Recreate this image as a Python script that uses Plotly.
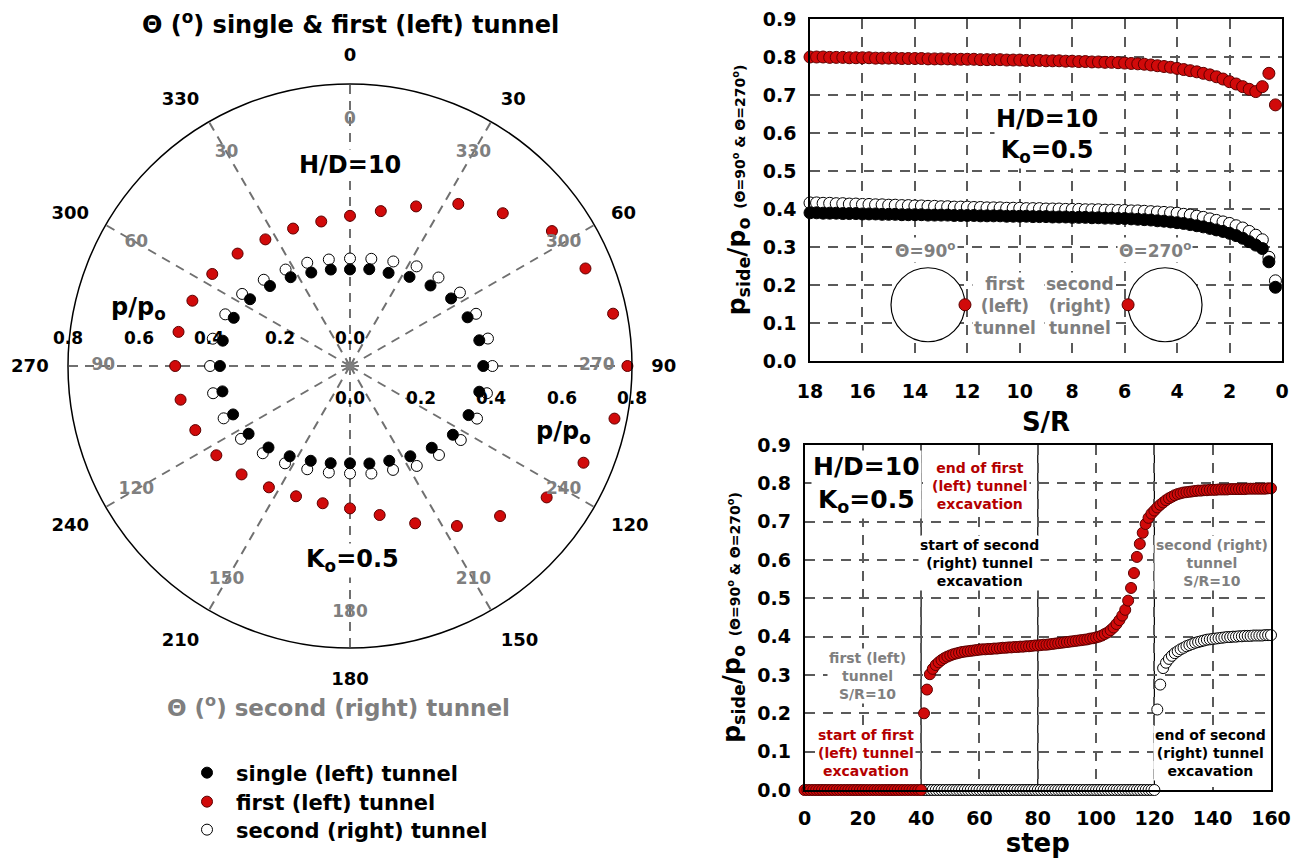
import plotly.graph_objects as go

W, H = 1296, 858
FONT = "DejaVu Sans"
RED = "#d10a0a"
RED_EDGE = "#5c0000"
DARKRED = "#b40000"
GRAY = "#7f7f7f"

# ---------------- polar chart data (p/po around the tunnel) ----------------
THETA_DEG = [0.0, 11.25, 22.5, 33.75, 45.0, 56.25, 67.5, 78.75, 90.0, 101.25, 112.5,
             123.75, 135.0, 146.25, 157.5, 168.75, 180.0, 191.25, 202.5, 213.75, 225.0,
             236.25, 247.5, 258.75, 270.0, 281.25, 292.5, 303.75, 315.0, 326.25, 337.5, 348.75]
P_SINGLE = [0.274, 0.280, 0.286, 0.304, 0.323, 0.345, 0.361, 0.374, 0.378, 0.374, 0.364,
            0.351, 0.328, 0.308, 0.291, 0.282, 0.276, 0.281, 0.291, 0.308, 0.327,
            0.346, 0.359, 0.369, 0.369, 0.368, 0.357, 0.341, 0.321, 0.303, 0.287, 0.279]
P_FIRST = [0.426, 0.448, 0.490, 0.553, 0.613, 0.689, 0.723, 0.761, 0.787, 0.765, 0.717,
           0.671, 0.602, 0.546, 0.483, 0.431, 0.404, 0.397, 0.400, 0.414, 0.435,
           0.456, 0.475, 0.490, 0.496, 0.496, 0.484, 0.470, 0.451, 0.432, 0.422, 0.418]
P_SECOND = [0.305, 0.310, 0.321, 0.340, 0.355, 0.375, 0.387, 0.399, 0.404, 0.396, 0.390,
            0.378, 0.357, 0.341, 0.319, 0.311, 0.305, 0.308, 0.317, 0.332, 0.350,
            0.372, 0.388, 0.396, 0.397, 0.397, 0.383, 0.368, 0.346, 0.329, 0.317, 0.308]
ANGLE_TICKS = [0, 30, 60, 90, 120, 150, 180, 210, 240, 270, 300, 330]
SECOND_ANGLE_LABELS = [0, 330, 300, 270, 240, 210, 180, 150, 120, 90, 60, 30]
RADIAL_TICKS = [0.0, 0.2, 0.4, 0.6, 0.8]

# ---------------- top-right: p_side/po vs S/R ----------------
SR = [18.0, 17.75, 17.5, 17.25, 17.0, 16.75, 16.5, 16.25, 16.0, 15.75,
      15.5, 15.25, 15.0, 14.75, 14.5, 14.25, 14.0, 13.75, 13.5, 13.25,
      13.0, 12.75, 12.5, 12.25, 12.0, 11.75, 11.5, 11.25, 11.0, 10.75,
      10.5, 10.25, 10.0, 9.75, 9.5, 9.25, 9.0, 8.75, 8.5, 8.25,
      8.0, 7.75, 7.5, 7.25, 7.0, 6.75, 6.5, 6.25, 6.0, 5.75,
      5.5, 5.25, 5.0, 4.75, 4.5, 4.25, 4.0, 3.75, 3.5, 3.25,
      3.0, 2.75, 2.5, 2.25, 2.0, 1.75, 1.5, 1.25, 1.0,
      0.75, 0.5, 0.25]
SIDE_FIRST = [0.800, 0.800, 0.800, 0.799, 0.799, 0.799, 0.798, 0.798, 0.798, 0.798,
              0.797, 0.797, 0.797, 0.797, 0.796, 0.796, 0.796, 0.796, 0.795, 0.795,
              0.795, 0.795, 0.794, 0.794, 0.794, 0.794, 0.793, 0.793, 0.793, 0.793,
              0.792, 0.792, 0.792, 0.791, 0.791, 0.791, 0.790, 0.790, 0.790, 0.789,
              0.789, 0.788, 0.788, 0.787, 0.787, 0.786, 0.786, 0.785, 0.784, 0.783,
              0.782, 0.781, 0.779, 0.777, 0.775, 0.773, 0.770, 0.767, 0.764, 0.761,
              0.757, 0.753, 0.748, 0.742, 0.735, 0.729, 0.722, 0.715, 0.709,
              0.722, 0.757, 0.674]
SIDE_SINGLE = [0.390, 0.390, 0.389, 0.389, 0.389, 0.388, 0.388, 0.388, 0.387, 0.387,
               0.387, 0.386, 0.386, 0.386, 0.385, 0.385, 0.385, 0.385, 0.384, 0.384,
               0.384, 0.384, 0.383, 0.383, 0.383, 0.383, 0.382, 0.382, 0.382, 0.382,
               0.381, 0.381, 0.381, 0.381, 0.380, 0.380, 0.380, 0.379, 0.379, 0.379,
               0.378, 0.378, 0.378, 0.377, 0.377, 0.376, 0.376, 0.375, 0.375, 0.374,
               0.373, 0.372, 0.371, 0.369, 0.368, 0.366, 0.364, 0.362, 0.359, 0.356,
               0.353, 0.349, 0.345, 0.341, 0.336, 0.330, 0.323, 0.314, 0.305,
               0.296, 0.261, 0.194]
SIDE_SECOND = [0.416, 0.416, 0.415, 0.415, 0.414, 0.414, 0.413, 0.413, 0.412, 0.412,
               0.411, 0.411, 0.410, 0.410, 0.409, 0.409, 0.408, 0.408, 0.407, 0.407,
               0.406, 0.406, 0.405, 0.405, 0.405, 0.404, 0.404, 0.403, 0.403, 0.403,
               0.402, 0.402, 0.402, 0.401, 0.401, 0.401, 0.400, 0.400, 0.400, 0.399,
               0.399, 0.399, 0.398, 0.398, 0.398, 0.397, 0.397, 0.396, 0.396, 0.395,
               0.395, 0.394, 0.393, 0.392, 0.391, 0.390, 0.389, 0.386, 0.384, 0.381,
               0.378, 0.374, 0.370, 0.366, 0.362, 0.356, 0.350, 0.341, 0.331,
               0.319, 0.273, 0.211]

# ---------------- bottom-right: p_side/po vs excavation step ----------------
STEP_FIRST = list(range(0, 161))
STEP_SECOND = list(range(41, 161))
STEP_P_FIRST = [
    0.0, 0.0, 0.0, 0.0, 0.0, 0.0, 0.0, 0.0, 0.0, 0.0,
    0.0, 0.0, 0.0, 0.0, 0.0, 0.0, 0.0, 0.0, 0.0, 0.0,
    0.0, 0.0, 0.0, 0.0, 0.0, 0.0, 0.0, 0.0, 0.0, 0.0,
    0.0, 0.0, 0.0, 0.0, 0.0, 0.0, 0.0, 0.0, 0.0, 0.0,
    0.0,
    0.200, 0.262, 0.302, 0.316, 0.326, 0.333, 0.339, 0.344, 0.348, 0.351,
    0.354, 0.356, 0.358, 0.360, 0.361, 0.362, 0.363, 0.364, 0.365, 0.366,
    0.367, 0.367, 0.368, 0.368, 0.369, 0.369, 0.370, 0.371, 0.371, 0.372,
    0.372, 0.373, 0.373, 0.374, 0.374, 0.375, 0.375, 0.376, 0.377, 0.377,
    0.378, 0.379, 0.379, 0.380, 0.381, 0.382, 0.383, 0.384, 0.385, 0.386,
    0.387, 0.388, 0.389, 0.390, 0.391, 0.392, 0.393, 0.395, 0.396, 0.398,
    0.400, 0.403, 0.407, 0.411, 0.417, 0.424, 0.433, 0.443, 0.455, 0.470,
    0.494, 0.527, 0.566, 0.608, 0.642, 0.671, 0.694, 0.710, 0.721, 0.729,
    0.737, 0.744, 0.750, 0.756, 0.761, 0.765, 0.769, 0.772, 0.774, 0.776,
    0.777, 0.778, 0.779, 0.780, 0.781, 0.781, 0.782, 0.782, 0.783, 0.783,
    0.783, 0.784, 0.784, 0.784, 0.784, 0.785, 0.785, 0.785, 0.785, 0.785,
    0.785, 0.786, 0.786, 0.786, 0.786, 0.786, 0.786, 0.786, 0.787, 0.787]
STEP_P_SECOND = [
    0.0, 0.0, 0.0, 0.0, 0.0, 0.0, 0.0, 0.0, 0.0, 0.0,
    0.0, 0.0, 0.0, 0.0, 0.0, 0.0, 0.0, 0.0, 0.0, 0.0,
    0.0, 0.0, 0.0, 0.0, 0.0, 0.0, 0.0, 0.0, 0.0, 0.0,
    0.0, 0.0, 0.0, 0.0, 0.0, 0.0, 0.0, 0.0, 0.0, 0.0,
    0.0, 0.0, 0.0, 0.0, 0.0, 0.0, 0.0, 0.0, 0.0, 0.0,
    0.0, 0.0, 0.0, 0.0, 0.0, 0.0, 0.0, 0.0, 0.0, 0.0,
    0.0, 0.0, 0.0, 0.0, 0.0, 0.0, 0.0, 0.0, 0.0, 0.0,
    0.0, 0.0, 0.0, 0.0, 0.0, 0.0, 0.0, 0.0, 0.0, 0.0,
    0.210, 0.275, 0.318, 0.332, 0.342, 0.350, 0.357, 0.362, 0.367, 0.371,
    0.375, 0.378, 0.381, 0.384, 0.386, 0.388, 0.390, 0.392, 0.393, 0.394,
    0.395, 0.396, 0.397, 0.398, 0.399, 0.399, 0.400, 0.400, 0.401, 0.401,
    0.402, 0.402, 0.402, 0.403, 0.403, 0.403, 0.403, 0.404, 0.404, 0.404]
STAGE_LINES = [40, 80, 120]

# ---------------- layout geometry (pixels) ----------------
CX, CY, R = 350, 366, 282          # polar centre / radius
R_UNIT = R / 0.8                    # px per unit of p/po
GRAY_R = 0.70                       # radius of the gray (second tunnel) angle labels

fig = go.Figure()

def mk(fill, edge, size=11, lw=1):
    return dict(color=fill, size=size, line=dict(color=edge, width=lw))

# ---- polar traces
fig.add_trace(go.Scatterpolar(r=P_SECOND, theta=THETA_DEG, mode="markers", name="second (right) tunnel",
                              marker=mk("white", "black"), legend="legend3", subplot="polar"))
fig.add_trace(go.Scatterpolar(r=P_SINGLE, theta=THETA_DEG, mode="markers", name="single (left) tunnel",
                              marker=mk("black", "black"), legend="legend", subplot="polar"))
fig.add_trace(go.Scatterpolar(r=P_FIRST, theta=THETA_DEG, mode="markers", name="first (left) tunnel",
                              marker=mk(RED, RED_EDGE), legend="legend2", subplot="polar"))
fig.add_trace(go.Scatterpolar(r=[GRAY_R] * len(ANGLE_TICKS), theta=ANGLE_TICKS, mode="text",
                              text=[str(v) for v in SECOND_ANGLE_LABELS], showlegend=False,
                              textfont=dict(family=FONT, size=17, color=GRAY, weight="bold"),
                              hoverinfo="skip", subplot="polar"))
fig.add_trace(go.Scatterpolar(r=[0], theta=[0], mode="markers", showlegend=False, subplot="polar",
                              marker=dict(symbol="asterisk-open", size=10, color=GRAY,
                                          line=dict(color=GRAY, width=2))))

# ---- top-right traces
fig.add_trace(go.Scatter(x=SR, y=SIDE_SECOND, mode="markers", marker=mk("white", "black", size=12),
                         showlegend=False, cliponaxis=False, xaxis="x", yaxis="y"))
fig.add_trace(go.Scatter(x=SR, y=SIDE_SINGLE, mode="markers", marker=mk("black", "black", size=12),
                         showlegend=False, cliponaxis=False, xaxis="x", yaxis="y"))
fig.add_trace(go.Scatter(x=SR, y=SIDE_FIRST, mode="markers", marker=mk(RED, RED_EDGE, size=12),
                         showlegend=False, cliponaxis=False, xaxis="x", yaxis="y"))

# tunnel schematic (illustration): two tunnel outlines, each with its measuring point
TUNNEL_CX = [13.5, 4.46]
TUNNEL_CY = 0.148
TUNNEL_HALF_WIDTH = 1.41
fig.add_trace(go.Scatter(x=TUNNEL_CX, y=[TUNNEL_CY, TUNNEL_CY], mode="markers", showlegend=False,
                         marker=dict(color="white", size=74, line=dict(color="black", width=1.2)),
                         hoverinfo="skip", xaxis="x", yaxis="y"))
fig.add_trace(go.Scatter(x=[TUNNEL_CX[0] - TUNNEL_HALF_WIDTH, TUNNEL_CX[1] + TUNNEL_HALF_WIDTH],
                         y=[TUNNEL_CY, TUNNEL_CY], mode="markers", marker=mk(RED, RED_EDGE, size=12),
                         showlegend=False, xaxis="x", yaxis="y"))

# ---- bottom-right traces
fig.add_trace(go.Scatter(x=STEP_SECOND, y=STEP_P_SECOND, mode="markers", marker=mk("white", "black"),
                         showlegend=False, cliponaxis=False, xaxis="x2", yaxis="y2"))
fig.add_trace(go.Scatter(x=STEP_FIRST, y=STEP_P_FIRST, mode="markers", marker=mk(RED, RED_EDGE),
                         showlegend=False, cliponaxis=False, xaxis="x2", yaxis="y2"))
shapes = []
for s in STAGE_LINES:
    shapes.append(dict(type="line", xref="x2", yref="y2 domain", x0=s, x1=s, y0=0, y1=1,
                       line=dict(color="black", width=1.2), layer="below"))

# ---------------- annotations ----------------
def ann(x, y, text, size, color="black", bg=None, **kw):
    d = dict(x=x / W, y=1 - y / H, xref="paper", yref="paper", text=text, showarrow=False,
             font=dict(family=FONT, size=size, color=color, weight="bold"),
             xanchor="center", yanchor="middle", borderpad=1)
    if bg:
        d["bgcolor"] = bg
    d.update(kw)
    return d

annotations = [
    ann(350, 23, "Θ (<sup>o</sup>) single &amp; first (left) tunnel", 24),
    ann(338, 706, "Θ (<sup>o</sup>) second (right) tunnel", 23, GRAY),
    ann(350, 165, "H/D=10", 24, bg="white"),
    ann(352, 560, "K<sub>o</sub>=0.5", 24, bg="white"),
    ann(138, 308, "p/p<sub>o</sub>", 24),
    ann(563, 432, "p/p<sub>o</sub>", 24),
]
for v in RADIAL_TICKS:
    annotations.append(ann(CX - v * R_UNIT, 338, f"{v:.1f}", 17))
    annotations.append(ann(CX + v * R_UNIT, 398, f"{v:.1f}", 17))

annotations += [
    ann(1047, 136, "H/D=10<br>K<sub>o</sub>=0.5", 24, bg="white"),
    ann(925, 250, "Θ=90<sup>o</sup>", 17, GRAY, bg="white"),
    ann(1155, 250, "Θ=270<sup>o</sup>", 17, GRAY, bg="white"),
    ann(1005, 306, "first<br>(left)<br>tunnel", 17, GRAY, bg="white"),
    ann(1080, 306, "second<br>(right)<br>tunnel", 17, GRAY, bg="white"),
    ann(866, 484, "H/D=10<br>K<sub>o</sub>=0.5", 25, bg="white"),
    ann(980, 486, "end of first<br>(left) tunnel<br>excavation", 14, DARKRED, bg="white"),
    ann(979, 563, "start of second<br>(right) tunnel<br>excavation", 14, bg="white"),
    ann(1212, 563, "second (right)<br>tunnel<br>S/R=10", 14, GRAY, bg="white"),
    ann(867, 676, "first (left)<br>tunnel<br>S/R=10", 14, GRAY, bg="white"),
    ann(866, 753, "start of first<br>(left) tunnel<br>excavation", 14, DARKRED, bg="white"),
    ann(1210, 753, "end of second<br>(right) tunnel<br>excavation", 14, bg="white"),
]

# ---------------- axes ----------------
GRID = dict(showgrid=True, gridcolor="#5a5a5a", gridwidth=1.6, griddash="10px,8px",
            showline=True, linecolor="black", linewidth=1.5, mirror=True, zeroline=False,
            automargin=False,
            tickfont=dict(family=FONT, size=19, color="black", weight="bold"))
YTITLE = ("p<sub>side</sub>/p<sub>o</sub> <span style='font-size:14px'>(Θ=90<sup>o</sup> "
          "&amp; Θ=270<sup>o</sup>)</span>")

def legend_at(y):
    return dict(x=178 / W, y=1 - y / H, xanchor="left", yanchor="middle", bgcolor="rgba(0,0,0,0)",
                itemwidth=48,
                font=dict(family=FONT, size=21, color="black", weight="bold"), borderwidth=0)

fig.update_layout(
    width=W, height=H, margin=dict(l=0, r=0, t=0, b=0, pad=0, autoexpand=False),
    paper_bgcolor="white", plot_bgcolor="white",
    font=dict(family=FONT, color="black"),
    polar=dict(
        domain=dict(x=[(CX - R) / W, (CX + R) / W], y=[1 - (CY + R) / H, 1 - (CY - R) / H]),
        bgcolor="white",
        angularaxis=dict(rotation=90, direction="clockwise", tickmode="array", tickvals=ANGLE_TICKS,
                         ticktext=[str(a) for a in ANGLE_TICKS], showline=True, linecolor="black",
                         linewidth=1.5, showgrid=True, gridcolor="#707070", gridwidth=2,
                         griddash="9px,7px", ticks="outside", ticklen=15,
                         tickcolor="rgba(0,0,0,0)",
                         tickfont=dict(family=FONT, size=18, color="black", weight="bold")),
        radialaxis=dict(range=[0, 0.8], showticklabels=False, showgrid=False, showline=False,
                        ticks=""),
    ),
    xaxis=dict(domain=[810 / W, 1282 / W], range=[18, 0], tickmode="linear", tick0=0, dtick=2,
               anchor="y", ticklabelstandoff=12,
               title=dict(text="S/R", font=dict(family=FONT, size=26, weight="bold"), standoff=12),
               **GRID),
    yaxis=dict(domain=[1 - 361 / H, 1 - 19 / H], range=[0, 0.9], tickmode="linear", tick0=0, dtick=0.1,
               tickformat=".1f", anchor="x", ticklabelstandoff=8,
               title=dict(text=YTITLE, font=dict(family=FONT, size=25, weight="bold"), standoff=10),
               **GRID),
    xaxis2=dict(domain=[804.5 / W, 1271 / W], range=[0, 160], tickmode="linear", tick0=0, dtick=20,
                anchor="y2", ticklabelstandoff=10,
                title=dict(text="step", font=dict(family=FONT, size=26, weight="bold"), standoff=20),
                **GRID),
    yaxis2=dict(domain=[1 - 790 / H, 1 - 445 / H], range=[0, 0.9], tickmode="linear", tick0=0, dtick=0.1,
                tickformat=".1f", anchor="x2", ticklabelstandoff=8,
                title=dict(text=YTITLE, font=dict(family=FONT, size=25, weight="bold"), standoff=10),
                **GRID),
    legend=legend_at(773),
    legend2=legend_at(802),
    legend3=legend_at(830),
    shapes=shapes,
    annotations=annotations,
)

fig.write_html("out.html")
